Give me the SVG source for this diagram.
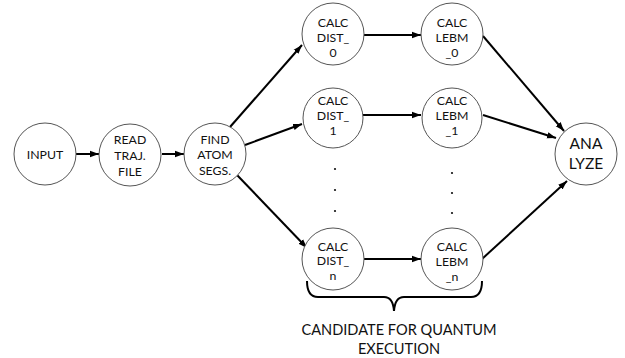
<svg xmlns="http://www.w3.org/2000/svg" width="625" height="358" viewBox="0 0 625 358">
<style>
.node{fill:#fff;stroke:#555;stroke-width:1}
.t{font-family:Lato,"Open Sans","Liberation Sans",sans-serif;font-size:12.3px;fill:#111;text-anchor:middle}
.big{font-size:15.5px}
.cap{font-size:14.6px}
.edge{stroke:#000;stroke-width:2;fill:none;marker-end:url(#ah)}
.dot{fill:#111}
</style>
<defs>
<marker id="ah" markerUnits="userSpaceOnUse" markerWidth="10" markerHeight="8" refX="9" refY="4" orient="auto">
<path d="M0,0.8 L9,4 L0,7.2 Z" fill="#000"/>
</marker>
</defs>
<g id="connectors">
<line class="edge" x1="76" y1="154" x2="99" y2="154"/>
<line class="edge" x1="162" y1="154" x2="184" y2="154"/>
<line class="edge" x1="230" y1="127" x2="302" y2="45"/>
<line class="edge" x1="245" y1="145" x2="302" y2="124"/>
<line class="edge" x1="237" y1="175" x2="307" y2="248"/>
<line class="edge" x1="364" y1="35" x2="421" y2="35"/>
<line class="edge" x1="363" y1="115" x2="421" y2="115"/>
<line class="edge" x1="364" y1="259" x2="421" y2="259"/>
<line class="edge" x1="483" y1="36" x2="564" y2="131"/>
<line class="edge" x1="483" y1="115" x2="556" y2="138"/>
<line class="edge" x1="482" y1="259" x2="567" y2="181"/>
</g>
<g id="input"><circle class="node" cx="45" cy="154" r="31"/><text class="t" x="45" y="158.5">INPUT</text></g>
<g id="read"><circle class="node" cx="130" cy="155" r="31"/><text class="t" x="130" y="143.5">READ</text><text class="t" x="130" y="159.5">TRAJ.</text><text class="t" x="130" y="175.5">FILE</text></g>
<g id="find"><circle class="node" cx="215" cy="154" r="31"/><text class="t" x="215" y="143.5">FIND</text><text class="t" x="215" y="158.5">ATOM</text><text class="t" x="215" y="174.5">SEGS.</text></g>
<g id="dist0"><circle class="node" cx="333" cy="34" r="31"/><text class="t" x="333" y="26.5">CALC</text><text class="t" x="333" y="41.5">DIST_</text><text class="t" x="333" y="56.5">0</text></g>
<g id="dist1"><circle class="node" cx="333" cy="118" r="30"/><text class="t" x="333" y="104.5">CALC</text><text class="t" x="333" y="119.5">DIST_</text><text class="t" x="333" y="134.5">1</text></g>
<g id="distn"><circle class="node" cx="333" cy="259" r="31"/><text class="t" x="333" y="250.5">CALC</text><text class="t" x="333" y="265">DIST_</text><text class="t" x="333" y="279.5">n</text></g>
<g id="lebm0"><circle class="node" cx="452" cy="34" r="31"/><text class="t" x="452" y="26.5">CALC</text><text class="t" x="452" y="41.5">LEBM</text><text class="t" x="452" y="56.5">_0</text></g>
<g id="lebm1"><circle class="node" cx="452" cy="118" r="30"/><text class="t" x="452" y="104.5">CALC</text><text class="t" x="452" y="119.5">LEBM</text><text class="t" x="452" y="134.5">_1</text></g>
<g id="lebmn"><circle class="node" cx="452" cy="259" r="31"/><text class="t" x="452" y="250.5">CALC</text><text class="t" x="452" y="265.5">LEBM</text><text class="t" x="452" y="280.5">_n</text></g>
<g id="analyze"><circle class="node" cx="586" cy="154" r="31"/><text class="t big" x="586" y="148.5">ANA</text><text class="t big" x="586" y="168.5">LYZE</text></g>
<g id="ellipsis">
<circle class="dot" cx="335" cy="169" r="1.1"/><circle class="dot" cx="335" cy="190" r="1.1"/><circle class="dot" cx="335" cy="211" r="1.1"/>
<circle class="dot" cx="452" cy="173" r="1.1"/><circle class="dot" cx="452" cy="193" r="1.1"/><circle class="dot" cx="452" cy="213" r="1.1"/>
</g>
<g id="brace">
<path d="M307,281 Q307,297 318,297 L384,297 Q393,297 394,311 Q395,297 404,297 L471,297 Q482,297 482,281" fill="none" stroke="#000" stroke-width="2"/>
<text class="t cap" x="399" y="335">CANDIDATE FOR QUANTUM</text>
<text class="t cap" x="399" y="354">EXECUTION</text>
</g>
</svg>
